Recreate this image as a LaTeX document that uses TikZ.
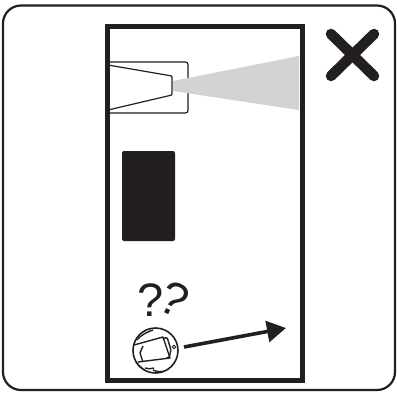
\documentclass[tikz,border=0pt]{standalone}
\usepackage{fontspec}
\setmainfont{Liberation Sans}
\usetikzlibrary{arrows.meta}
\definecolor{ink}{HTML}{231F20}
\definecolor{beam}{HTML}{D1D3D4}
\tikzset{
  frameline/.style={draw=ink,line width=2.2pt,rounded corners=18pt},
  roomline/.style={draw=ink,line width=4.8pt},
  thinline/.style={draw=ink,line width=1.2pt,line join=round},
  lensline/.style={draw=ink,line width=1.4pt,line join=round},
  qmark/.style={text=ink,font=\fontsize{47}{47}\selectfont,inner sep=0pt},
}
\begin{document}
\begin{tikzpicture}[x=1pt,y=-1pt]
\useasboundingbox (0,0) rectangle (397,394);
\fill[white] (0,0) rectangle (397,394);
\draw[frameline] (3,5.5) rectangle (395,390);
\draw[thinline,rounded corners=2.5pt] (108,62) -- (188,62) -- (188,113) -- (108,113);
\draw[thinline,rounded corners=1pt] (108,65) -- (172,76) -- (172,95) -- (108,110);
\fill[beam] (173,81) -- (299,56) -- (299,110) -- (173,91) -- cycle;
\draw[roomline] (107.5,26.5) rectangle (302.5,380.5);
\node[draw=none,fill=ink,rounded corners=2pt,minimum width=53pt,minimum height=90pt,inner sep=0pt] (block) at (148.5,196) {};
\node[qmark] (q1) at (151,300.5) {?};
\node[qmark,rotate=-25] (q2) at (174.5,299) {?};
\node[circle,draw=ink,line width=1.6pt,minimum size=45pt,inner sep=0pt] (lens) at (155.5,350.5) {};
\node[circle,draw=ink,line width=.8pt,minimum size=3.5pt,inner sep=0pt] (dot) at (174,347) {};
\begin{scope}[lensline]
\draw (134,345) -- (163,337) -- (170,358) -- (138,362);
\draw[rounded corners=1.5pt] (163,339) -- (167,337) -- (171,350) -- (169,358) -- (166,358);
\draw (143,346) -- (140,353) -- (143,362);
\draw (137,340) .. controls (141,335) and (147,332) .. (153,330);
\draw (145,368) .. controls (148,369) and (151,369) .. (154,368);
\draw (153,370) .. controls (157,372) and (161,372) .. (165,371);
\draw (136,362) .. controls (138,365) and (140,367) .. (143,369);
\end{scope}
\coordinate (arrowstart) at (184,347);
\coordinate (arrowend) at (286,328);
\draw[draw=ink,line width=3.6pt,-{Triangle[length=19pt,width=21pt,fill=ink]}] (arrowstart) -- (arrowend);
\draw[draw=ink,line width=10.5pt,line cap=round] (331,34) -- (374,76);
\draw[draw=ink,line width=10.5pt,line cap=round] (374,34) -- (331,76);
\end{tikzpicture}
\end{document}
